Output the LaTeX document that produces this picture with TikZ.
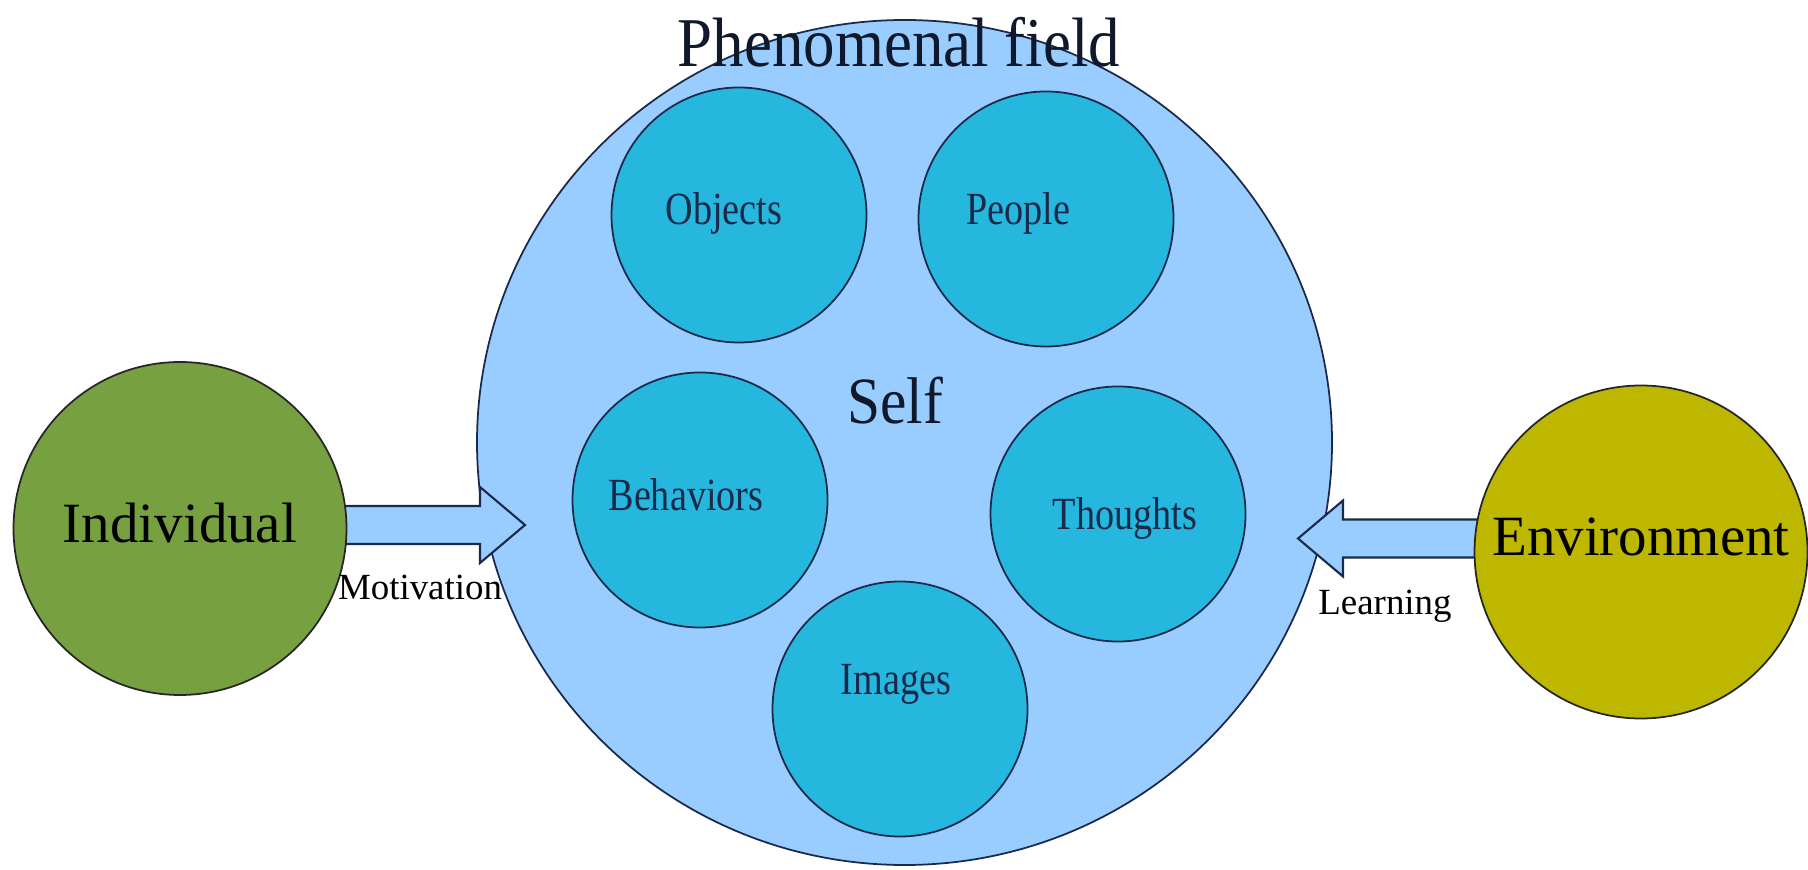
\documentclass[tikz,border=0pt]{standalone}
\usepackage{fontspec}
\setmainfont{Liberation Serif}
\newfontfamily\condfont{Liberation Serif}[FakeStretch=0.83]
\newfontfamily\narrowfont{Liberation Serif}[FakeStretch=0.9]
\usetikzlibrary{shapes.geometric, calc}
\definecolor{fieldblue}{HTML}{99CCFF}
\definecolor{ballblue}{HTML}{26B7DE}
\definecolor{indgreen}{HTML}{77A040}
\definecolor{envolive}{HTML}{BDB700}
\definecolor{navy}{HTML}{1B2A4A}
\tikzset{
  field/.style={
    ellipse, draw=navy, fill=fieldblue, line width=0.5pt, inner sep=0pt,
    minimum width=8.55cm, minimum height=8.45cm
  },
  ball/.style={circle, draw=navy, fill=ballblue, line width=0.5pt, inner sep=0pt, minimum size=2.55cm},
  agent/.style={
    circle, draw=black!85, line width=0.5pt, inner sep=0pt, minimum size=3.33cm,
    font=\fontsize{16.2}{19}\selectfont
  },
  balllabel/.style={anchor=base, font=\condfont\fontsize{13.1}{15}\selectfont, text=navy},
  titlelabel/.style={anchor=base, font=\narrowfont\fontsize{19.9}{23}\selectfont, text=navy!60!black},
  arrowlabel/.style={anchor=base, font=\fontsize{10.5}{12}\selectfont},
  blockarrow/.style={draw=navy, fill=fieldblue, line width=0.6pt, line join=miter},
}

\begin{document}
\begin{tikzpicture}
  \useasboundingbox (0,0) rectangle (18.08,8.69);

  \node[field] (field) at (9.045,4.265) {};

  % block arrows, tails hidden under the outer circles
  \coordinate (mtip) at (5.25,3.44);
  \coordinate (ltip) at (12.98,3.305);
  \path (1.80,3.405) coordinate (indc) (16.41,3.17) coordinate (envc);
  \foreach \tip/\tail/\h in {mtip/indc/-0.45, ltip/envc/0.45}
    \draw[blockarrow] (\tip) -- ++(\h,0.38) -- ++(0,-0.19)
      -- ($(\tip -| \tail)+(0,0.19)$) -- ++(0,-0.38)
      -- ($(\tip)+(\h,-0.19)$) -- ++(0,-0.19) -- cycle;

  \node[ball] (obj) at (7.39,6.54) {};
  \node[ball] (ppl) at (10.46,6.50) {};
  \node[ball] (beh) at (7.00,3.69) {};
  \node[ball] (tho) at (11.18,3.55) {};
  \node[ball] (img) at (9.00,1.60) {};

  \node[agent, fill=indgreen, text depth=0.12cm] (ind) at (indc) {Individual};
  \node[agent, fill=envolive, text depth=0.30cm] (env) at (envc) {Environment};

  \node[balllabel] (objtxt) at (7.24,6.44) {Objects};
  \node[balllabel] (ppltxt) at (10.18,6.44) {People};
  \node[balllabel] (behtxt) at (6.86,3.58) {Behaviors};
  \node[balllabel] (thotxt) at (11.25,3.39) {Thoughts};
  \node[balllabel] (imgtxt) at (8.96,1.75) {Images};

  \node[titlelabel] (fieldtxt) at (8.99,8.02) {Phenomenal field};
  \node[titlelabel, font=\narrowfont\fontsize{18.8}{22}\selectfont] (selftxt) at (8.95,4.45) {Self};

  \node[arrowlabel] (mottxt) at (4.20,2.69) {Motivation};
  \node[arrowlabel] (lrntxt) at (13.85,2.54) {Learning};
\end{tikzpicture}
\end{document}
